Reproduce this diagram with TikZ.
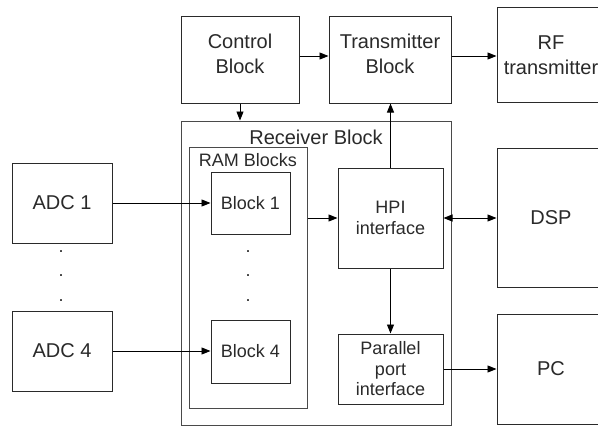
\documentclass[tikz,border=0pt]{standalone}
\usepackage{fontspec}
\setmainfont{Liberation Sans}
\usetikzlibrary{arrows.meta}
\definecolor{ink}{HTML}{2A2A2A}
\tikzset{
  big/.style={font=\fontsize{20}{25}\selectfont},
  small/.style={font=\fontsize{18}{20.5}\selectfont},
  box/.style={draw=ink, line width=1pt, text=ink, align=center, inner sep=0pt, rectangle},
  frame/.style={draw=ink!85, line width=1pt, rectangle, inner sep=0pt},
  conn/.style={draw=black, line width=0.9pt, -{Triangle[length=9pt,width=7pt]}},
  biconn/.style={draw=black, line width=0.9pt, {Triangle[length=9pt,width=7pt]}-{Triangle[length=9pt,width=7pt]}},
  lbl/.style={text=ink, inner sep=0pt, align=center},
  dotmark/.style={text=ink, inner sep=0pt, anchor=base, font=\fontsize{18}{20}\selectfont},
}
\begin{document}
\begin{tikzpicture}[x=1pt,y=-1pt]
\useasboundingbox (0,0) rectangle (598,426);
\clip (0,0) rectangle (598,426);
\fill[white] (0,0) rectangle (598,426);
% containers
\node[frame, minimum width=270pt, minimum height=304pt] (recv) at (316,273) {};
\node[frame, minimum width=118pt, minimum height=261pt] (ram) at (248,277.5) {};
\node[lbl, big] (recvlbl) at (316,137) {Receiver Block};
\node[lbl, small] (ramlbl) at (248,160) {RAM Blocks};
% top row
\node[box, minimum width=118pt, minimum height=87pt] (ctrl) at (240,59.5) {};
\node[lbl, big] (ctrltxt) at ([yshift=5.5pt]ctrl.center) {Control\\Block};
\node[box, minimum width=122pt, minimum height=87pt] (tx) at (390,59.5) {};
\node[lbl, big] (txtxt) at ([yshift=5.5pt]tx.center) {Transmitter\\Block};
\node[box, big, minimum width=108pt, minimum height=95pt] (rf) at (551,55) {RF\\transmitter};
% ADCs
\node[box, big, minimum width=100pt, minimum height=80pt] (adc1) at (62,203) {ADC 1};
\node[box, big, minimum width=100pt, minimum height=80pt] (adc4) at (62,351) {ADC 4};
% RAM blocks
\node[box, small, minimum width=79pt, minimum height=62pt] (b1) at (250.5,203) {Block 1};
\node[box, small, minimum width=79pt, minimum height=63pt] (b4) at (250.5,351.5) {Block 4};
% interfaces
\node[box, small, minimum width=105pt, minimum height=100pt] (hpi) at (390.5,218) {HPI\\interface};
\node[box, small, minimum width=105pt, minimum height=70pt] (par) at (390.5,369) {Parallel\\port\\interface};
% right
\node[box, big, minimum width=108pt, minimum height=139pt] (dsp) at (551,217.5) {DSP};
\node[box, big, minimum width=108pt, minimum height=110pt] (pc) at (551,369) {PC};
% dots
\node[dotmark] (d1) at (61,252) {.};
\node[dotmark] (d2) at (61,276) {.};
\node[dotmark] (d3) at (61,301) {.};
\node[dotmark] (d4) at (248,252) {.};
\node[dotmark] (d5) at (248,276) {.};
\node[dotmark] (d6) at (248,301) {.};
% connectors
\draw[conn] ([yshift=3.5pt]ctrl.east) -- ([yshift=3.5pt]tx.west);
\draw[conn] ([yshift=3.5pt]tx.east) -- ([yshift=-1pt]rf.west);
\draw[conn] (ctrl.south) -- (ctrl.south |- recv.north);
\draw[conn] (hpi.north) -- (hpi.north |- tx.south);
\draw[conn] (adc1.east) -- (b1.west);
\draw[conn] (adc4.east) -- (adc4.east -| b4.west);
\draw[conn] (ram.east |- hpi.west) -- (hpi.west);
\draw[biconn] (hpi.east) -- (hpi.east -| dsp.west);
\draw[conn] (hpi.south) -- (par.north);
\draw[conn] (par.east) -- (par.east -| pc.west);
\end{tikzpicture}
\end{document}
